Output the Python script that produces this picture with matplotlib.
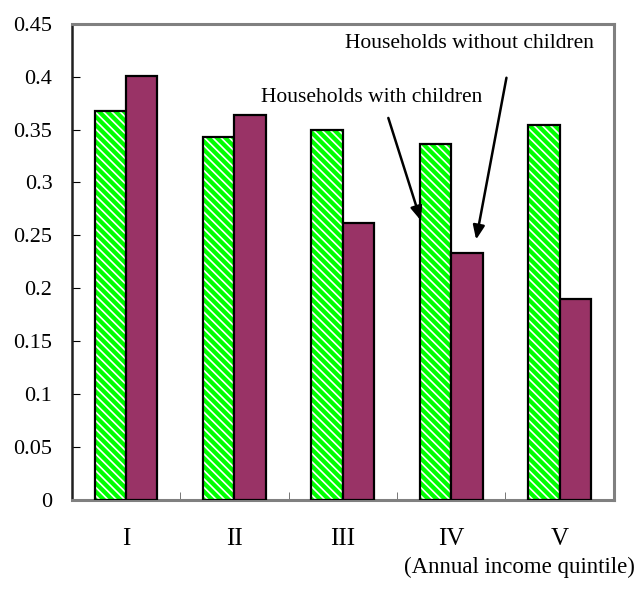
import matplotlib

matplotlib.use("Agg")

import matplotlib.pyplot as plt
import numpy as np

plt.rcParams["font.family"] = ["Liberation Serif", "DejaVu Serif"]
plt.rcParams["hatch.linewidth"] = 1.2

quintiles = ["I", "II", "III", "IV", "V"]
with_children = [0.368, 0.343, 0.350, 0.336, 0.354]
without_children = [0.401, 0.364, 0.262, 0.233, 0.190]
y_ticks = [0, 0.05, 0.1, 0.15, 0.2, 0.25, 0.3, 0.35, 0.4, 0.45]
y_tick_labels = ["0", "0.05", "0.1", "0.15", "0.2", "0.25", "0.3", "0.35", "0.4", "0.45"]

green = "#00ff00"
purple = "#993366"
width = 0.29

fig = plt.figure(figsize=(6.36, 5.95), dpi=100)
ax = fig.add_axes([0.113, 0.16, 0.852, 0.80])

x = np.arange(len(quintiles))

# hatched green bars: white stripes on green, then a black outline on top
ax.bar(x - width / 2, with_children, width, color=green, edgecolor="white",
       hatch="\\\\\\\\", linewidth=0, zorder=2)
ax.bar(x - width / 2, with_children, width, fill=False, edgecolor="black",
       linewidth=1.6, zorder=3)
ax.bar(x + width / 2, without_children, width, color=purple, edgecolor="black",
       linewidth=1.6, zorder=3)

ax.set_xlim(-0.5, len(quintiles) - 0.5)
ax.set_ylim(0, 0.45)
ax.set_yticks(y_ticks)
ax.set_yticklabels(y_tick_labels, fontsize=16)
ax.set_xticks(x)
ax.set_xticklabels(quintiles, fontsize=18)
ax.set_xticks(x[:-1] + 0.5, minor=True)
ax.tick_params(axis="x", which="major", length=0, pad=20)
ax.tick_params(axis="x", which="minor", direction="in", length=6, color="#606060")
ax.tick_params(axis="y", direction="in", length=6, pad=14)

for side in ["top", "right", "bottom"]:
    ax.spines[side].set_color("#808080")
    ax.spines[side].set_linewidth(2.2)
ax.spines["left"].set_color("#202020")
ax.spines["left"].set_linewidth(1.8)

# labels and their pointer arrows
ax.text(2.27, 0.380, "Households with children", fontsize=15.5, ha="center", va="center")
ax.text(3.17, 0.431, "Households without children", fontsize=15.5, ha="center", va="center")
arrow = dict(arrowstyle="-|>,head_length=0.6,head_width=0.25", color="black", lw=1.8,
             mutation_scale=14, shrinkA=0, shrinkB=0)
ax.annotate("", xy=(2.72, 0.264), xytext=(2.42, 0.361), arrowprops=arrow)
ax.annotate("", xy=(3.23, 0.246), xytext=(3.51, 0.399), arrowprops=arrow)

fig.text(0.998, 0.047, "(Annual income quintile)", fontsize=16.5, ha="right", va="center")

fig.savefig("out.png", dpi=100)
